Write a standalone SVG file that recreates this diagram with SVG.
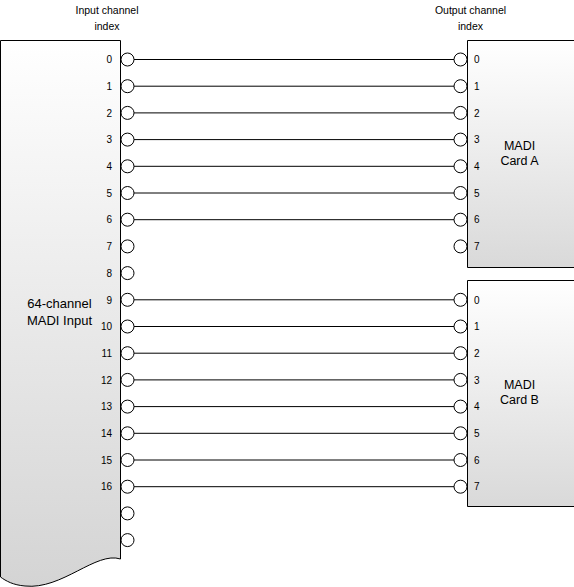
<svg xmlns="http://www.w3.org/2000/svg" width="574" height="587" viewBox="0 0 574 587">
<defs>
<linearGradient id="gL" x1="0" y1="0" x2="0" y2="1"><stop offset="0" stop-color="#ffffff"/><stop offset="1" stop-color="#d4d4d4"/></linearGradient>
<linearGradient id="gC" x1="0" y1="0" x2="0" y2="1"><stop offset="0" stop-color="#ffffff"/><stop offset="1" stop-color="#d9d9d9"/></linearGradient>
</defs>
<style>
text{font-family:"Liberation Sans",Arial,sans-serif;fill:#000}
.hd{font-size:10.5px;text-anchor:middle}
.nl{font-size:10px;text-anchor:end}
.nr{font-size:10px;text-anchor:start}
.big{font-size:12.5px;text-anchor:middle}
.lbl{font-size:13px;text-anchor:middle}
.port{fill:#fff;stroke:#000;stroke-width:1}
.box{stroke:#000;stroke-width:1}
.wire{stroke:#000;stroke-width:1;fill:none}
</style>
<g id="headers">
<text class="hd" x="107" y="14">Input channel</text>
<text class="hd" x="107" y="30">index</text>
<text class="hd" x="470.5" y="14">Output channel</text>
<text class="hd" x="470.5" y="30">index</text>
</g>
<g id="madi-input">
<path class="box" fill="url(#gL)" d="M0.5,40.5 H120.5 V559 C96,551 62,590 25,586 C13,585 6,581 0.5,577 Z"/>
<text class="lbl" x="59.5" y="308">64-channel</text>
<text class="lbl" x="59.5" y="325">MADI Input</text>
<g id="input-labels">
<text class="nl" x="112" y="63.2">0</text>
<text class="nl" x="112" y="89.9">1</text>
<text class="nl" x="112" y="116.6">2</text>
<text class="nl" x="112" y="143.3">3</text>
<text class="nl" x="112" y="170">4</text>
<text class="nl" x="112" y="196.7">5</text>
<text class="nl" x="112" y="223.4">6</text>
<text class="nl" x="112" y="250.1">7</text>
<text class="nl" x="112" y="276.8">8</text>
<text class="nl" x="112" y="303.5">9</text>
<text class="nl" x="112" y="330.2">10</text>
<text class="nl" x="112" y="356.9">11</text>
<text class="nl" x="112" y="383.6">12</text>
<text class="nl" x="112" y="410.3">13</text>
<text class="nl" x="112" y="437">14</text>
<text class="nl" x="112" y="463.7">15</text>
<text class="nl" x="112" y="490.4">16</text>
</g>
<g id="input-ports">
<circle class="port" cx="127.5" cy="59.5" r="6.5"/>
<circle class="port" cx="127.5" cy="86.2" r="6.5"/>
<circle class="port" cx="127.5" cy="112.9" r="6.5"/>
<circle class="port" cx="127.5" cy="139.6" r="6.5"/>
<circle class="port" cx="127.5" cy="166.3" r="6.5"/>
<circle class="port" cx="127.5" cy="193" r="6.5"/>
<circle class="port" cx="127.5" cy="219.7" r="6.5"/>
<circle class="port" cx="127.5" cy="246.4" r="6.5"/>
<circle class="port" cx="127.5" cy="273.1" r="6.5"/>
<circle class="port" cx="127.5" cy="299.8" r="6.5"/>
<circle class="port" cx="127.5" cy="326.5" r="6.5"/>
<circle class="port" cx="127.5" cy="353.2" r="6.5"/>
<circle class="port" cx="127.5" cy="379.9" r="6.5"/>
<circle class="port" cx="127.5" cy="406.6" r="6.5"/>
<circle class="port" cx="127.5" cy="433.3" r="6.5"/>
<circle class="port" cx="127.5" cy="460" r="6.5"/>
<circle class="port" cx="127.5" cy="486.7" r="6.5"/>
<circle class="port" cx="127.5" cy="513.4" r="6.5"/>
<circle class="port" cx="127.5" cy="540.1" r="6.5"/>
</g>
</g>
<g id="card-a">
<path class="box" fill="url(#gC)" d="M575,40.5 H467.5 V267.5 H575"/>
<text class="big" x="519.5" y="149.5">MADI</text>
<text class="big" x="519.5" y="164.5">Card A</text>
<text class="nr" x="474" y="63.2">0</text>
<text class="nr" x="474" y="89.9">1</text>
<text class="nr" x="474" y="116.6">2</text>
<text class="nr" x="474" y="143.3">3</text>
<text class="nr" x="474" y="170">4</text>
<text class="nr" x="474" y="196.7">5</text>
<text class="nr" x="474" y="223.4">6</text>
<text class="nr" x="474" y="250.1">7</text>
<circle class="port" cx="460.5" cy="59.5" r="6.5"/>
<circle class="port" cx="460.5" cy="86.2" r="6.5"/>
<circle class="port" cx="460.5" cy="112.9" r="6.5"/>
<circle class="port" cx="460.5" cy="139.6" r="6.5"/>
<circle class="port" cx="460.5" cy="166.3" r="6.5"/>
<circle class="port" cx="460.5" cy="193" r="6.5"/>
<circle class="port" cx="460.5" cy="219.7" r="6.5"/>
<circle class="port" cx="460.5" cy="246.4" r="6.5"/>
</g>
<g id="card-b">
<path class="box" fill="url(#gC)" d="M575,280.5 H467.5 V506.5 H575"/>
<text class="big" x="519.5" y="389">MADI</text>
<text class="big" x="519.5" y="404">Card B</text>
<text class="nr" x="474" y="303.5">0</text>
<text class="nr" x="474" y="330.2">1</text>
<text class="nr" x="474" y="356.9">2</text>
<text class="nr" x="474" y="383.6">3</text>
<text class="nr" x="474" y="410.3">4</text>
<text class="nr" x="474" y="437">5</text>
<text class="nr" x="474" y="463.7">6</text>
<text class="nr" x="474" y="490.4">7</text>
<circle class="port" cx="460.5" cy="299.8" r="6.5"/>
<circle class="port" cx="460.5" cy="326.5" r="6.5"/>
<circle class="port" cx="460.5" cy="353.2" r="6.5"/>
<circle class="port" cx="460.5" cy="379.9" r="6.5"/>
<circle class="port" cx="460.5" cy="406.6" r="6.5"/>
<circle class="port" cx="460.5" cy="433.3" r="6.5"/>
<circle class="port" cx="460.5" cy="460" r="6.5"/>
<circle class="port" cx="460.5" cy="486.7" r="6.5"/>
</g>
<g id="connectors">
<path class="wire" d="M134,59.5 H454 M134,86.2 H454 M134,112.9 H454 M134,139.6 H454 M134,166.3 H454 M134,193 H454 M134,219.7 H454"/>
<path class="wire" d="M134,299.8 H454 M134,326.5 H454 M134,353.2 H454 M134,379.9 H454 M134,406.6 H454 M134,433.3 H454 M134,460 H454 M134,486.7 H454"/>
</g>
</svg>
